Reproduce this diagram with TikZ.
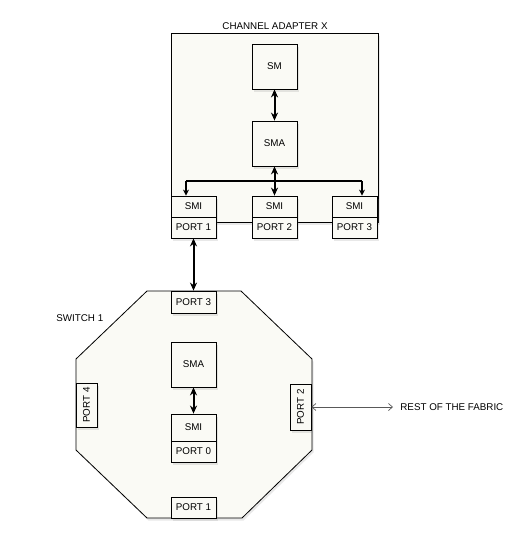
\documentclass[tikz,border=0pt]{standalone}
\usepackage{fontspec}
\setmainfont{Liberation Sans}
\usepackage{xcolor}
\usepackage{tikz}
\usetikzlibrary{arrows.meta,shadows}

\definecolor{paper}{HTML}{FAFAF5}

\begin{document}
\begin{tikzpicture}[x=1pt,y=-1pt,line width=0.8pt]
\tikzset{
  every node/.style={font=\fontsize{9.8}{11}\selectfont, inner sep=0pt},
  soft/.style={drop shadow={opacity=0.18, shadow xshift=1.5pt, shadow yshift=-2.5pt}},
  unit/.style={draw, fill=paper, soft, minimum width=45pt, minimum height=45pt},
  slot/.style={draw, fill=paper, soft, minimum width=45pt, minimum height=21pt},
  duplex/.style={line width=2pt, >={Stealth[length=8pt,width=7pt]}, <->},
  feed/.style={line width=1.2pt, -{Stealth[length=6pt,width=6pt]}}
}

\useasboundingbox (0,0) rectangle (530,549);

% channel adapter
\node[draw, fill=paper, soft, minimum width=207pt, minimum height=189pt] (ca) at (274.5,127.5) {};
\node (calabel) at (275,26) {CHANNEL ADAPTER X};

\node[unit] (sm) at (274.5,66.5) {SM};
\node[unit] (sma) at (274.5,143.5) {SMA};

\node[slot] (smi1) at (193.5,206.5) {SMI};
\node[slot] (port1) at (193.5,227.5) {PORT 1};
\node[slot] (smi2) at (274.5,206.5) {SMI};
\node[slot] (port2) at (274.5,227.5) {PORT 2};
\node[slot] (smi3) at (354.5,206.5) {SMI};
\node[slot] (port3) at (354.5,227.5) {PORT 3};

\coordinate (busl) at (186,181);
\coordinate (busr) at (362,181);

\draw[duplex] (sm.south) -- (sma.north);
\path[draw] [line width=1.2pt] (busl) -- (busr);
\path[draw] [feed] (busl) -- (busl |- smi1.north);
\path[draw] [feed] (busr) -- (busr |- smi3.north);
\draw[duplex] (sma.south) -- (smi2.north);

% switch
\path[draw, fill=paper, soft] (147,291) -- (241,291) -- (312,359) -- (312,450)
  -- (242,518) -- (147,518) -- (76,450) -- (76,359) -- cycle;
\node[anchor=west] (swlabel) at (56,318) {SWITCH 1};

\node[slot, minimum height=22pt] (swport3) at (193.5,302) {PORT 3};
\node[unit] (swsma) at (193.5,364.5) {SMA};
\node[slot, minimum height=27pt] (swsmi) at (193.5,427.5) {SMI};
\node[slot] (swport0) at (193.5,451.5) {PORT 0};
\node[slot] (swport1) at (193.5,507.5) {PORT 1};
\node[slot, rotate=90, minimum width=44pt] (swport4) at (86.5,405) {PORT 4};
\node[slot, rotate=90, minimum width=46pt] (swport2) at (300.5,407) {PORT 2};

\draw[duplex] (port1.south) -- (swport3.north);
\draw[duplex] (swsma.south) -- (swsmi.north);

% rest of the fabric
\coordinate (fabric) at (393,407);
\node[anchor=west] (fabriclabel) at (400,407) {REST OF THE FABRIC};
\path[draw] [gray!70!black, line width=0.7pt, {Straight Barb[length=4pt,width=7pt]}-{Straight Barb[length=4pt,width=7pt]}] (swport2) -- (fabric);
\end{tikzpicture}
\end{document}
